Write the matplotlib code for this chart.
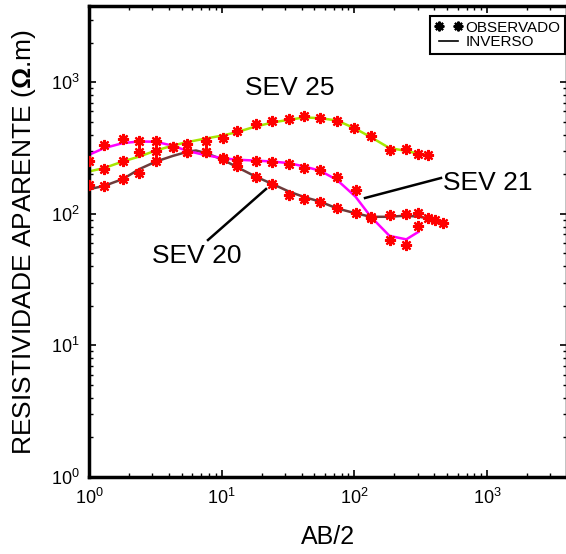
import matplotlib
matplotlib.use("Agg")
import matplotlib.pyplot as plt
from matplotlib.lines import Line2D

plt.rcParams["font.family"] = ["Liberation Sans", "DejaVu Sans"]
plt.rcParams["mathtext.fontset"] = "custom"
plt.rcParams["mathtext.rm"] = "Liberation Sans"
plt.rcParams["mathtext.bf"] = "Liberation Sans:bold"

# SEV 20 (marrom)
ab20 = [1.0, 1.3, 1.8, 2.4, 3.2, 5.5, 7.6, 10.2, 13, 18, 24, 32, 42, 55, 74, 102, 133, 184, 246, 304, 356, 407, 465]
obs20 = [166, 163, 184, 206, 250, 293, 293, 262, 232, 189, 169, 139, 130, 122, 110, 102, 93, 98, 100, 101, 93, 90, 85]
ab20_inv = [1.0, 1.3, 1.8, 2.4, 3.2, 4.3, 5.5, 6.4, 7.6, 10.2, 13, 18, 24, 32, 42, 55, 74, 102, 133, 184, 246, 304, 356, 407, 465]
inv20 = [154, 163, 184, 219, 250, 276, 296, 303, 290, 258, 227, 192, 169, 148, 134, 124, 110, 101, 95, 95, 97, 95, 93, 90, 87]

# SEV 21 (magenta)
ab21 = [1.0, 1.3, 1.8, 2.4, 3.2, 4.3, 5.5, 7.6, 10.2, 13, 18, 24, 32, 42, 55, 74, 102, 133, 184, 246, 304]
obs21 = [254, 335, 372, 355, 355, 325, 293, 293, 265, 258, 253, 247, 240, 223, 216, 192, 152, 94, 63, 58, 81]
inv21 = [281, 316, 345, 355, 353, 329, 301, 279, 265, 258, 254, 250, 243, 229, 213, 181, 135, 95, 68, 64, 73]

# SEV 25 (verde)
ab25 = [1.3, 1.8, 2.4, 3.2, 4.3, 5.5, 7.6, 10.2, 13, 18, 24, 32, 42, 55, 74, 100, 133, 184, 246, 304, 356]
obs25 = [220, 250, 293, 303, 325, 341, 361, 376, 423, 483, 504, 525, 556, 534, 504, 448, 392, 307, 312, 286, 281]
ab25_inv = [1.0] + ab25
inv25 = [210, 223, 250, 273, 303, 331, 351, 374, 394, 418, 461, 494, 519, 540, 534, 512, 448, 383, 316, 301, 286, 281]

W, H = 566, 554
fig = plt.figure(figsize=(W / 100, H / 100), dpi=100)
ax = fig.add_axes([89 / W, 1 - 477 / H, 478 / W, 471 / H])

star = (8, 2, 0)
ax.plot(ab20_inv, inv20, color="#6e3b3b", lw=1.8, zorder=2)
ax.plot(ab21, inv21, color="#ff00ff", lw=1.8, zorder=2)
ax.plot(ab25_inv, inv25, color="#a6e600", lw=1.8, zorder=2)
for ab, obs in [(ab20, obs20), (ab21, obs21), (ab25, obs25)]:
    ax.plot(ab, obs, ls="none", marker=star, ms=8, mew=1.6, color="red", zorder=3)

ax.set_xscale("log")
ax.set_yscale("log")
ax.set_xlim(1, 4000)
ax.set_ylim(1, 3800)

ax.tick_params(which="both", direction="in", top=True, right=True, labelsize=13)
ax.tick_params(axis="x", pad=8)
ax.tick_params(axis="y", pad=7)
ax.tick_params(which="major", length=5, width=1.2)
ax.tick_params(which="minor", length=3, width=1)
for s in ax.spines.values():
    s.set_linewidth(2.5)

ax.set_xlabel("AB/2", fontsize=18, labelpad=12)
ax.set_ylabel("RESISTIVIDADE APARENTE ($\\mathbf{\\Omega}$.m)", fontsize=19, labelpad=9)

# rótulos das curvas
fig.text(290 / W, 1 - 88 / H, "SEV 25", fontsize=19, ha="center", va="center")
fig.text(443 / W, 1 - 183 / H, "SEV 21", fontsize=19, ha="left", va="center")
fig.text(152 / W, 1 - 256 / H, "SEV 20", fontsize=19, ha="left", va="center")
fig.add_artist(Line2D([365 / W, 441 / W], [1 - 198 / H, 1 - 178 / H], color="black", lw=1.8))
fig.add_artist(Line2D([208 / W, 266 / W], [1 - 240 / H, 1 - 189 / H], color="black", lw=1.8))

h_obs = Line2D([], [], ls="none", marker=star, ms=7, mew=1.5, color="black")
h_inv = Line2D([], [], color="black", lw=1.2)
leg = fig.legend([h_obs, h_inv], ["OBSERVADO", "INVERSO"], loc="upper right",
                 bbox_to_anchor=(565 / W, 1 - 16 / H), borderaxespad=0, numpoints=2,
                 fontsize=11, fancybox=False, framealpha=1, edgecolor="black",
                 handlelength=1.8, handletextpad=0.2, labelspacing=0.05, borderpad=0.3)
leg.get_frame().set_linewidth(1.5)

fig.savefig("out.png", dpi=100)
